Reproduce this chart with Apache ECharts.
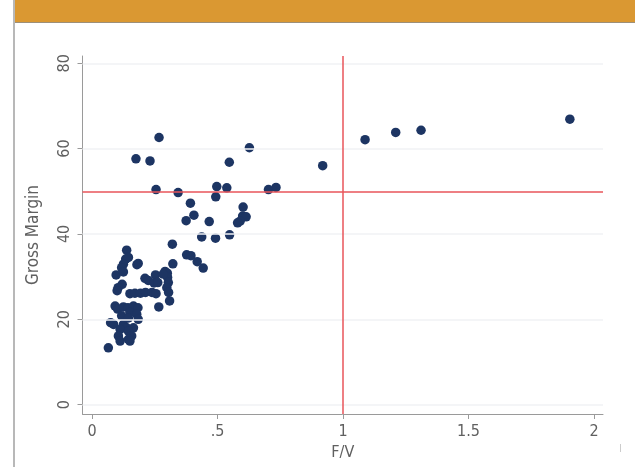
<!DOCTYPE html>
<html><head><meta charset="utf-8">
<script src="https://cdn.jsdelivr.net/npm/echarts@6/dist/echarts.min.js"></script>
<style>html,body{margin:0;padding:0;background:#fff}#c{width:635px;height:467px}</style>
</head><body><div id="c"></div>
<script>
const fv = [1.904,1.311,1.210,1.088,0.919,0.627,0.547,0.267,0.175,0.231,0.255,0.343,0.497,0.537,0.703,0.733,0.493,0.392,0.406,0.375,0.467,0.602,0.600,0.614,0.590,0.580,0.437,0.492,0.548,0.320,0.377,0.394,0.419,0.443,0.322,0.253,0.291,0.300,0.301,0.138,0.134,0.145,0.125,0.118,0.184,0.179,0.096,0.125,0.211,0.224,0.247,0.262,0.284,0.304,0.298,0.120,0.104,0.100,0.151,0.171,0.193,0.213,0.239,0.255,0.305,0.309,0.266,0.092,0.102,0.125,0.143,0.165,0.183,0.151,0.178,0.184,0.074,0.086,0.118,0.125,0.138,0.112,0.145,0.165,0.145,0.158,0.105,0.112,0.145,0.151,0.065];
const gm = [66.9,64.3,63.8,62.1,56.0,60.2,56.8,62.6,57.6,57.1,50.4,49.7,51.1,50.8,50.4,50.9,48.7,47.2,44.4,43.1,42.9,46.3,44.2,44.0,43.0,42.6,39.3,39.0,39.8,37.6,35.1,34.9,33.5,32.0,33.0,30.4,31.2,30.8,29.8,36.2,34.1,34.5,32.9,32.1,33.1,32.8,30.4,31.1,29.6,29.1,28.5,28.6,30.6,28.6,27.4,28.2,27.4,26.7,26.0,26.1,26.1,26.3,26.3,26.0,26.3,24.3,22.9,23.1,22.4,22.9,22.7,23.1,22.7,21.6,21.2,20.0,19.2,18.8,20.8,18.8,18.0,17.6,20.3,18.0,17.2,16.1,16.1,14.9,15.3,14.9,13.3];
const xTicks = [0,0.5,1,1.5,2];
const xTickLabels = ['0','.5','1','1.5','2'];
const yTicks = [0,20,40,60,80];
const yTickLabels = ['0','20','40','60','80'];
const refX = 1, refY = 50;
const xName = 'F/V', yName = 'Gross Margin';

const FONT = "'Liberation Sans Narrow','DejaVu Sans Condensed','Roboto Condensed',sans-serif";
const TXT = '#606060';
const AX = '#9a9a9a';
const points = fv.map((v,i)=>[v, gm[i]]);

const chart = echarts.init(document.getElementById('c'), null, {renderer:'canvas'});
chart.setOption({
  animation:false,
  backgroundColor:'#fff',
  graphic:[
    {type:'rect', left:14, top:0, shape:{width:621,height:22}, style:{fill:'#DA9832'}, z:10},
    {type:'rect', left:14, top:22, shape:{width:621,height:1}, style:{fill:'#9c8f7a'}, z:10},
    {type:'rect', left:13, top:0, shape:{width:2,height:467}, style:{fill:'#b8b8b8'}, z:10},
    {type:'rect', left:620, top:444, shape:{width:1,height:8}, style:{fill:'#cccccc'}, z:10}
  ],
  grid:{left:82.5, right:32, top:56, bottom:53},
  xAxis:{
    type:'value', min:-0.038, max:2.036,
    name:xName, nameLocation:'middle', nameGap:25,
    nameTextStyle:{color:TXT, fontFamily:FONT, fontSize:16},
    axisLine:{show:true, onZero:false, lineStyle:{color:AX, width:1}},
    axisTick:{show:true, customValues:xTicks, length:5, lineStyle:{color:AX}},
    axisLabel:{customValues:xTicks, color:TXT, fontFamily:FONT, fontSize:16, margin:10,
      formatter:(v)=>{const i=xTicks.indexOf(v);return i>=0?xTickLabels[i]:'';}},
    splitLine:{show:false}
  },
  yAxis:{
    type:'value', min:-2.2, max:81.7,
    name:yName, nameLocation:'middle', nameGap:40,
    nameTextStyle:{color:TXT, fontFamily:FONT, fontSize:17},
    axisLine:{show:true, onZero:false, lineStyle:{color:AX, width:1}},
    axisTick:{show:true, customValues:yTicks, length:5, lineStyle:{color:AX}},
    axisLabel:{customValues:yTicks, rotate:90, color:TXT, fontFamily:FONT, fontSize:16, margin:10,
      formatter:(v)=>{const i=yTicks.indexOf(v);return i>=0?yTickLabels[i]:'';}},
    splitLine:{show:false}
  },
  series:[
    {type:'scatter', data:[], silent:true,
      markLine:{silent:true, symbol:'none', label:{show:false},
        lineStyle:{color:'#f0f2f5', width:1.5, type:'solid'},
        data:yTicks.map(v=>({yAxis:v}))}},
    {type:'scatter', data:points, symbolSize:9.5,
      itemStyle:{color:'#1d3563', opacity:1},
      markLine:{silent:true, symbol:'none', label:{show:false},
        lineStyle:{color:'#e8555a', width:1.5, type:'solid'},
        data:[{xAxis:refX},{yAxis:refY}]}, z:3}
  ]
});
</script></body></html>
